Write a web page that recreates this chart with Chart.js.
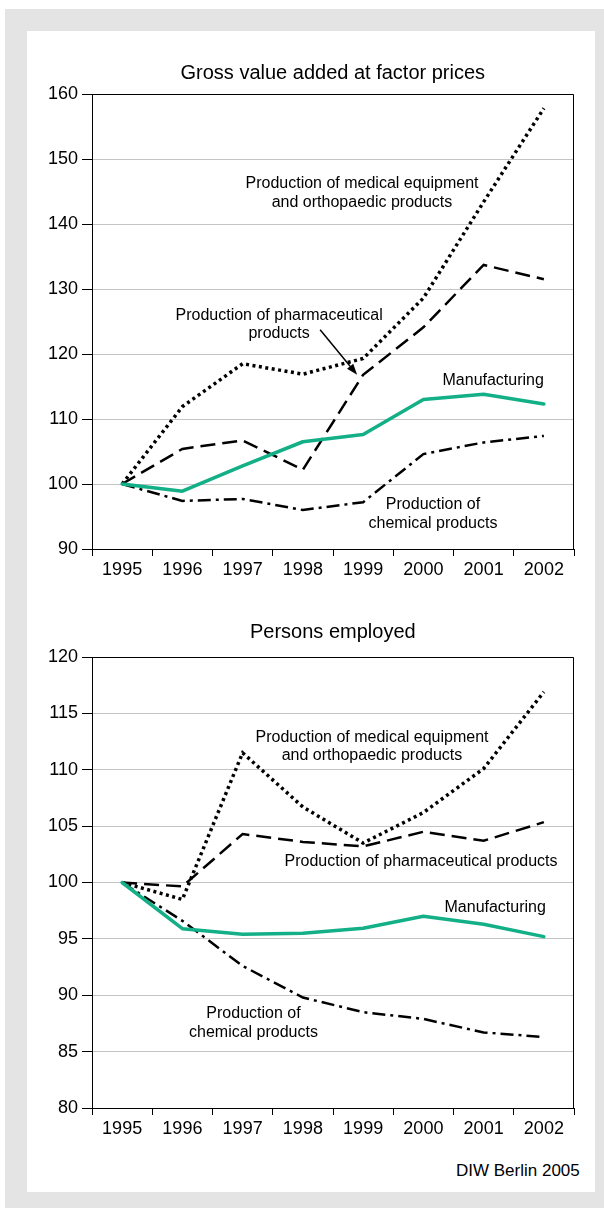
<!DOCTYPE html>
<html>
<head>
<meta charset="utf-8">
<script src="https://cdn.jsdelivr.net/npm/chart.js@4.4.1/dist/chart.umd.min.js"></script>
<style>
  html, body { margin: 0; padding: 0; background: #ffffff; }
  body { width: 604px; height: 1208px; position: relative; overflow: hidden;
         font-family: "Liberation Sans", Arial, Helvetica, sans-serif; color: #000; }
  #grey { position: absolute; left: 5px; top: 9px; width: 599px; height: 1199px; background: #e4e4e4; }
  #white { position: absolute; left: 27px; top: 31px; width: 568px; height: 1161px; background: #ffffff; }
  canvas { position: absolute; left: 0; }
  .lbl { position: absolute; white-space: nowrap; text-align: center; font-size: 16px; line-height: 18.5px; }
  .ttl { position: absolute; white-space: nowrap; text-align: center; font-size: 20px; line-height: 24px; }
</style>
</head>
<body>
<div id="grey"></div>
<div id="white"></div>
<canvas id="c1" width="604" height="600" style="top:0px"></canvas>
<canvas id="c2" width="604" height="560" style="top:600px"></canvas>
<script>
// ---------------- DATA ----------------
const years = ["1995", "1996", "1997", "1998", "1999", "2000", "2001", "2002"];

// Gross value added at factor prices (1995 = 100)
const gvaManufacturing = [100, 98.9, 102.8, 106.5, 107.6, 113.0, 113.8, 112.3];
const gvaPharma        = [100, 105.4, 106.7, 102.2, 116.8, 124.1, 133.7, 131.5];
const gvaChemical      = [100, 97.4, 97.7, 96.0, 97.2, 104.6, 106.4, 107.4];
const gvaMedical       = [100, 111.9, 118.5, 116.9, 119.3, 128.6, 143.4, 157.8];

// Persons employed (1995 = 100)
const empManufacturing = [100, 95.9, 95.4, 95.5, 95.95, 97.0, 96.3, 95.2];
const empPharma        = [100, 99.65, 104.3, 103.6, 103.2, 104.5, 103.7, 105.35];
const empChemical      = [100, 96.6, 92.6, 89.8, 88.5, 87.9, 86.7, 86.3];
const empMedical       = [100, 98.5, 111.5, 106.7, 103.5, 106.2, 110.1, 116.9];

const titleTop = "Gross value added at factor prices";
const titleBottom = "Persons employed";
const source = "DIW Berlin 2005";

// ---------------- STYLES ----------------
const GREEN = "#13b088";
const FONT = '"Liberation Sans", Arial, Helvetica, sans-serif';

function makeDatasets(man, pha, che, med) {
  return [
    { label: "Manufacturing", data: man, borderColor: GREEN, borderWidth: 3.5, borderCapStyle: "round", borderJoinStyle: "round" },
    { label: "Production of pharmaceutical products", data: pha, borderColor: "#000", borderWidth: 2.5, borderDash: [15, 7] },
    { label: "Production of chemical products", data: che, borderColor: "#000", borderWidth: 2.5, borderDash: [13, 5, 3, 5] },
    { label: "Production of medical equipment and orthopaedic products", data: med, borderColor: "#000", borderWidth: 3.5, borderDash: [3, 3.5] }
  ].map(d => Object.assign({ pointRadius: 0, tension: 0, fill: false }, d));
}

const framePlugin = {
  id: "frame",
  beforeDatasetsDraw(chart) {
    const a = chart.chartArea, ctx = chart.ctx;
    ctx.save();
    ctx.strokeStyle = "#000";
    ctx.lineWidth = 1;
    ctx.beginPath();
    ctx.moveTo(Math.round(a.left) + 0.5, Math.round(a.top) + 0.5);
    ctx.lineTo(Math.round(a.right) - 0.5, Math.round(a.top) + 0.5);
    ctx.lineTo(Math.round(a.right) - 0.5, Math.round(a.bottom) + 0.5);
    ctx.stroke();
    ctx.restore();
  }
};

const arrowPlugin = {
  id: "arrow",
  afterDatasetsDraw(chart) {
    const xs = chart.scales.x, ys = chart.scales.y;
    const tipX = xs.getPixelForValue(4) - 6;
    const tipY = ys.getPixelForValue(gvaPharma[4]);
    const sx = tipX - 37, sy = tipY - 45;
    const ctx = chart.ctx;
    const ang = Math.atan2(tipY - sy, tipX - sx);
    const L = 11, W = 4;
    const bx = tipX - L * Math.cos(ang), by = tipY - L * Math.sin(ang);
    ctx.save();
    ctx.strokeStyle = "#000";
    ctx.fillStyle = "#000";
    ctx.lineWidth = 1.5;
    ctx.beginPath();
    ctx.moveTo(sx, sy);
    ctx.lineTo(bx, by);
    ctx.stroke();
    ctx.beginPath();
    ctx.moveTo(tipX, tipY);
    ctx.lineTo(bx + W * Math.sin(ang), by - W * Math.cos(ang));
    ctx.lineTo(bx - W * Math.sin(ang), by + W * Math.cos(ang));
    ctx.closePath();
    ctx.fill();
    ctx.restore();
  }
};

function makeChart(id, datasets, yMin, yMax, step, padTop, xHeight, plugins) {
  return new Chart(document.getElementById(id), {
    type: "line",
    data: { labels: years, datasets: datasets },
    plugins: plugins,
    options: {
      responsive: false,
      animation: false,
      devicePixelRatio: 1,
      layout: { padding: { top: padTop, right: 30, left: 0, bottom: 0 } },
      plugins: { legend: { display: false }, tooltip: { enabled: false }, title: { display: false } },
      scales: {
        x: {
          type: "category",
          offset: true,
          afterFit: s => { s.height = xHeight; },
          border: { display: true, color: "#000", width: 1 },
          grid: { display: true, offset: true, drawOnChartArea: false, drawTicks: true, tickLength: 7, tickColor: "#000" },
          ticks: { color: "#000", font: { family: FONT, size: 18 }, padding: 3, maxRotation: 0, autoSkip: false }
        },
        y: {
          min: yMin, max: yMax,
          afterFit: s => { s.width = 92; },
          border: { display: true, color: "#000", width: 1 },
          grid: { color: "#c4c4c4", lineWidth: 1, drawTicks: true, tickLength: 10, tickColor: "#000" },
          ticks: { stepSize: step, color: "#000", font: { family: FONT, size: 18 }, padding: 4 }
        }
      }
    }
  });
}

makeChart("c1", makeDatasets(gvaManufacturing, gvaPharma, gvaChemical, gvaMedical), 90, 160, 10, 94, 51, [framePlugin, arrowPlugin]);
makeChart("c2", makeDatasets(empManufacturing, empPharma, empChemical, empMedical), 80, 120, 5, 57, 52, [framePlugin]);

// ---------------- TEXT ----------------
function addText(cls, lines, cx, cy, lh) {
  const d = document.createElement("div");
  d.className = cls;
  d.innerHTML = lines.join("<br>");
  if (lh) d.style.lineHeight = lh + "px";
  document.body.appendChild(d);
  const w = d.offsetWidth, h = d.offsetHeight;
  d.style.left = (cx - w / 2) + "px";
  d.style.top = (cy - h / 2) + "px";
  return d;
}
addText("ttl", [titleTop], 333, 72);
addText("ttl", [titleBottom], 333, 631);

addText("lbl", ["Production of medical equipment", "and orthopaedic products"], 362, 192.5);
addText("lbl", ["Production of pharmaceutical", "products"], 279, 324);
addText("lbl", ["Manufacturing"], 493, 380);
addText("lbl", ["Production of", "chemical products"], 433, 513.5);

addText("lbl", ["Production of medical equipment", "and orthopaedic products"], 372, 745.5, 18);
addText("lbl", ["Production of pharmaceutical products"], 421, 861);
addText("lbl", ["Manufacturing"], 495, 907);
addText("lbl", ["Production of", "chemical products"], 253.5, 1022, 19.5);

const src = document.createElement("div");
src.className = "lbl";
src.style.fontSize = "17px";
src.textContent = source;
document.body.appendChild(src);
src.style.left = (580 - src.offsetWidth) + "px";
src.style.top = (1171 - src.offsetHeight / 2) + "px";
</script>
</body>
</html>
